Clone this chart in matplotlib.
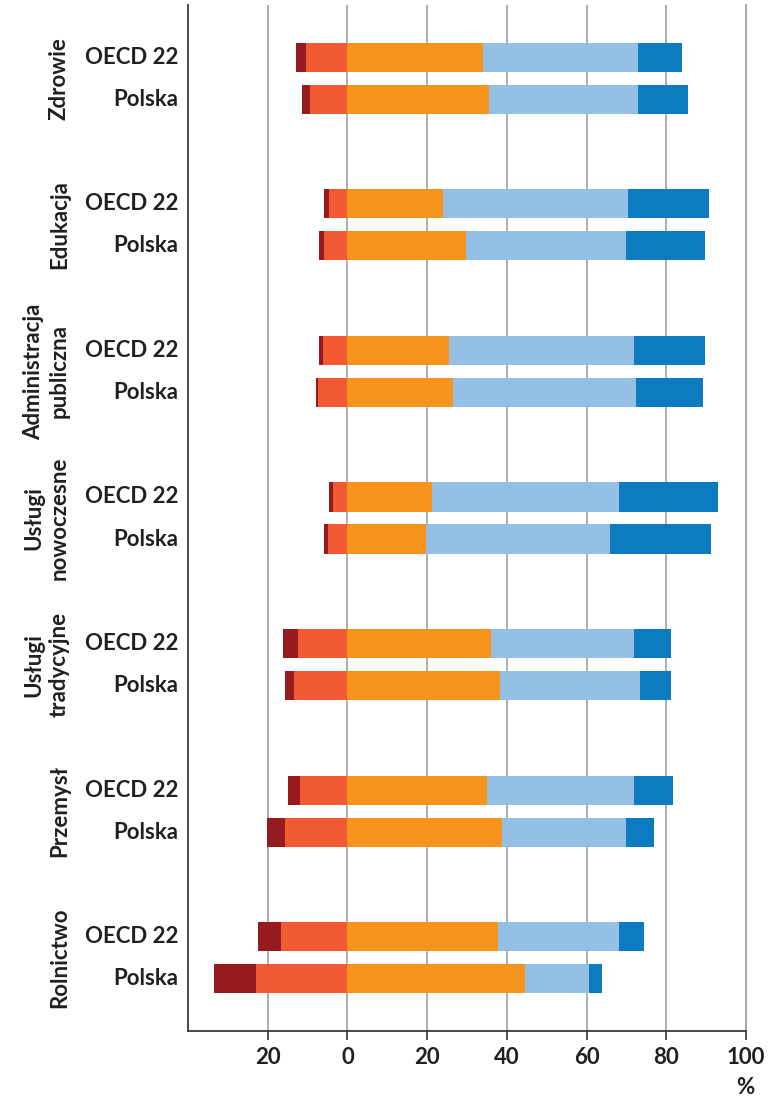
"""Udział pracowników wg oceny (skala -/+) w sektorach: OECD 22 vs Polska."""

import matplotlib

matplotlib.use("Agg")
import matplotlib.pyplot as plt
import matplotlib.transforms as mtransforms
import numpy as np

plt.rcParams["font.family"] = ["Lato", "DejaVu Sans"]

# sectors, top to bottom
sectors = ["Zdrowie", "Edukacja", "Administracja\npubliczna",
           "Usługi\nnowoczesne", "Usługi\ntradycyjne", "Przemysł", "Rolnictwo"]
rows = ["OECD 22", "Polska"]

# segment widths (%), one entry per sector; [OECD 22, Polska]
dark_red = [[2.7, 2.0], [1.5, 1.1], [1.0, 0.4], [1.0, 1.0], [3.7, 2.1], [3.1, 4.7], [5.9, 10.5]]
red = [[10.3, 9.3], [4.5, 6.0], [6.1, 7.4], [3.5, 5.0], [12.4, 13.5], [11.9, 15.6], [16.6, 22.9]]
orange = [[33.9, 35.6], [23.9, 29.7], [25.5, 26.5], [21.3, 19.7], [36.1, 38.2], [35.0, 38.7], [37.7, 44.5]]
light_blue = [[39.0, 37.3], [46.4, 40.1], [46.3, 45.8], [46.9, 46.3], [35.7, 35.2], [36.8, 31.1], [30.5, 16.2]]
dark_blue = [[11.0, 12.5], [20.5, 19.9], [17.9, 16.9], [24.7, 25.3], [9.5, 7.9], [10.0, 7.2], [6.2, 3.2]]

xticks = [-20, 0, 20, 40, 60, 80, 100]
xtick_labels = ["20", "0", "20", "40", "60", "80", "100"]

C_DARK_RED = "#951b1e"
C_RED = "#f15a33"
C_ORANGE = "#f7941d"
C_LIGHT_BLUE = "#95c0e6"
C_DARK_BLUE = "#0c7bc0"
GRID = "#a7a7a9"
TEXT = "#231f20"

fig = plt.figure(figsize=(7.69, 11.04), dpi=100)
ax = fig.add_axes([188 / 769, 1 - 1031 / 1104, (746 - 188) / 769, (1031 - 5) / 1104])

offset = 0.1433
height = 0.198
group = np.arange(len(sectors))
trans = mtransforms.blended_transform_factory(fig.transFigure, ax.transData)

for j, label in enumerate(rows):
    y = group - offset if j == 0 else group + offset
    dr = np.array([v[j] for v in dark_red])
    r = np.array([v[j] for v in red])
    o = np.array([v[j] for v in orange])
    lb = np.array([v[j] for v in light_blue])
    db = np.array([v[j] for v in dark_blue])

    ax.barh(y, -r, height=height, color=C_RED, linewidth=0)
    ax.barh(y, -dr, left=-r, height=height, color=C_DARK_RED, linewidth=0)
    ax.barh(y, o, height=height, color=C_ORANGE, linewidth=0)
    ax.barh(y, lb, left=o, height=height, color=C_LIGHT_BLUE, linewidth=0)
    ax.barh(y, db, left=o + lb, height=height, color=C_DARK_BLUE, linewidth=0)

    # row labels left of the axis
    for yy in y:
        fig.text(178 / 769, yy, label, transform=trans, ha="right", va="center",
                 fontsize=16, fontweight="bold", color=TEXT)

for i, name in enumerate(sectors):
    fig.text(70 / 769, i, name, transform=trans, rotation=90, ha="right",
             va="center", multialignment="center", fontsize=16,
             fontweight="bold", color=TEXT, linespacing=1.3)

ax.set_xlim(-40, 100)
ax.set_ylim(len(sectors) - 0.5, -0.5)
ax.set_xticks(xticks)
ax.set_xticklabels(xtick_labels, fontsize=16, fontweight="bold", color=TEXT)
ax.set_yticks([])
ax.tick_params(axis="x", direction="out", length=6.5, width=1.2, color="#333333", pad=5)

ax.grid(axis="x", color=GRID, linewidth=1.3)
ax.axvline(100, color=GRID, linewidth=1.3, clip_on=False, zorder=0.5)
ax.set_axisbelow(True)
for side in ("top", "right"):
    ax.spines[side].set_visible(False)
for side in ("left", "bottom"):
    ax.spines[side].set_color("#3a3a3a")
    ax.spines[side].set_linewidth(1.3)

fig.text(745 / 769, 1 - 1088 / 1104, "%", ha="center", va="center",
         fontsize=16, fontweight="bold", color=TEXT)

fig.savefig("out.png", dpi=100)
